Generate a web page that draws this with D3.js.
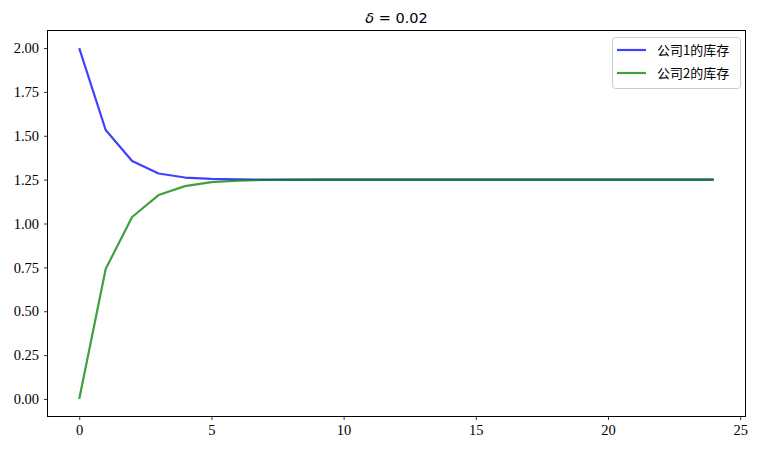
<!DOCTYPE html>
<html><head><meta charset="utf-8">
<script src="https://cdn.jsdelivr.net/npm/d3@7"></script>
<style>body{margin:0;background:#fff}</style>
</head><body>
<svg id="c" width="758" height="452"></svg>
<script>
const periods = d3.range(0, 25);
const firm1 = [2.0, 1.533, 1.356, 1.285, 1.262, 1.254, 1.251, 1.2505, 1.25, 1.25, 1.25, 1.25, 1.25, 1.25, 1.25, 1.25, 1.25, 1.25, 1.25, 1.25, 1.25, 1.25, 1.25, 1.25, 1.25];
const firm2 = [0.0, 0.741, 1.037, 1.162, 1.213, 1.236, 1.244, 1.248, 1.249, 1.25, 1.25, 1.25, 1.25, 1.25, 1.25, 1.25, 1.25, 1.25, 1.25, 1.25, 1.25, 1.25, 1.25, 1.25, 1.25];
const seriesNames = ["公司1的库存", "公司2的库存"];
const seriesColors = ["rgba(0,0,255,0.75)", "rgba(0,128,0,0.75)"];
const xTicks = [0, 5, 10, 15, 20, 25];
const yTicks = [0, 0.25, 0.5, 0.75, 1.0, 1.25, 1.5, 1.75, 2.0];

const L = 47.5, R = 745.5, T = 30.5, B = 416.5;
const svg = d3.select("#c");
const x = d3.scaleLinear().domain([-1.2, 25.2]).range([L, R]);
const y = d3.scaleLinear().domain([-0.1, 2.1]).range([B, T]);
const tickFont = "'Liberation Serif', serif";

const xa = svg.append("g").attr("transform", `translate(0,${B})`)
  .call(d3.axisBottom(x).tickValues(xTicks).tickFormat(d3.format("d")).tickSizeOuter(0).tickSize(3.5).tickPadding(5));
const ya = svg.append("g").attr("transform", `translate(${L},0)`)
  .call(d3.axisLeft(y).tickValues(yTicks).tickFormat(d3.format(".2f")).tickSizeOuter(0).tickSize(3.5).tickPadding(5));
[xa, ya].forEach(a => {
  a.select(".domain").remove();
  a.selectAll("line").attr("stroke", "#000").attr("stroke-width", 0.8);
  a.selectAll("text").attr("font-family", tickFont).attr("font-size", "14.5px").attr("fill", "#000");
});

const line = d3.line().x((d, i) => x(periods[i])).y(d => y(d));
[firm1, firm2].forEach((s, k) => {
  svg.append("path").datum(s).attr("d", line).attr("fill", "none")
    .attr("stroke", seriesColors[k]).attr("stroke-width", 2.2).attr("stroke-linejoin", "round");
});

svg.append("rect").attr("x", L).attr("y", T).attr("width", R - L).attr("height", B - T)
  .attr("fill", "none").attr("stroke", "#000").attr("stroke-width", 1);

svg.append("text").attr("x", (L + R) / 2).attr("y", 23).attr("text-anchor", "middle")
  .attr("font-family", "'DejaVu Sans', sans-serif").attr("font-size", "14.5px")
  .html('<tspan font-style="italic">δ</tspan> = 0.02');

const lg = svg.append("g");
lg.append("rect").attr("x", 612.5).attr("y", 37.5).attr("width", 128).attr("height", 51).attr("rx", 3)
  .attr("fill", "#fff").attr("fill-opacity", 0.8).attr("stroke", "#ccc").attr("stroke-width", 1);
seriesNames.forEach((n, k) => {
  const yy = 50 + k * 23;
  lg.append("line").attr("x1", 617).attr("x2", 646).attr("y1", yy).attr("y2", yy)
    .attr("stroke", seriesColors[k]).attr("stroke-width", 2.2);
  lg.append("text").attr("x", 657).attr("y", yy + 5).text(n)
    .attr("font-family", "'Noto Sans CJK SC', sans-serif").attr("font-size", "13px").attr("fill", "#000");
});
</script>
</body></html>
